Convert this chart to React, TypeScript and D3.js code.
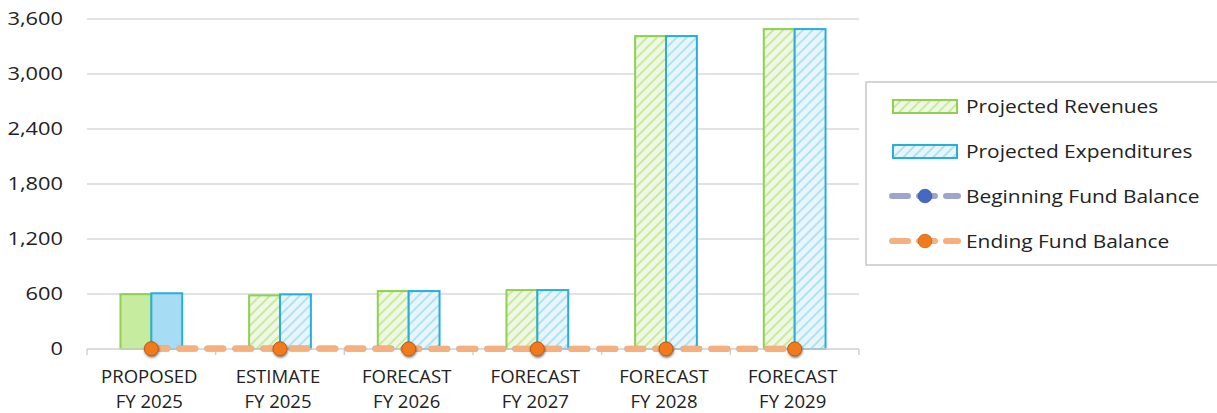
import React from "react";
import * as d3 from "d3";

const categories = [
  ["PROPOSED", "FY 2025"],
  ["ESTIMATE", "FY 2025"],
  ["FORECAST", "FY 2026"],
  ["FORECAST", "FY 2027"],
  ["FORECAST", "FY 2028"],
  ["FORECAST", "FY 2029"],
];
const projectedRevenues = [598, 585, 632, 643, 3414, 3490];
const projectedExpenditures = [608, 596, 632, 643, 3414, 3490];
const beginningFundBalance = [6, 5, 4, 3, 3, 2];
const endingFundBalance = [2, 2, 1, 1, 1, 1];
const yTicks = [0, 600, 1200, 1800, 2400, 3000, 3600];

const W = 1217;
const H = 413;
const plot = { left: 87, right: 859, top: 19, bottom: 349 };
const FONT = "'Open Sans', sans-serif";

const GREEN = "#8fd14f";
const BLUE = "#27aedb";
const BEGIN_LINE = "#9ea4cc";
const BEGIN_DOT = "#4468c4";
const END_LINE = "#f6b07e";
const END_DOT = "#f07a1c";

// Text drawn slightly wide, anchored at (x, y)
function Label({
  x,
  y,
  anchor = "start",
  size = 17,
  stretch = 1.06,
  children,
}: {
  x: number;
  y: number;
  anchor?: "start" | "middle" | "end";
  size?: number;
  stretch?: number;
  children: React.ReactNode;
}) {
  return (
    <text
      transform={`translate(${x},${y}) scale(${stretch},1)`}
      textAnchor={anchor}
      dy="0.35em"
      fontFamily={FONT}
      fontSize={size}
      fill="#222"
    >
      {children}
    </text>
  );
}

export default function App() {
  const x = d3
    .scaleBand<number>()
    .domain(categories.map((_, i) => i))
    .range([plot.left, plot.right])
    .paddingInner(0)
    .paddingOuter(0);
  const y = d3.scaleLinear().domain([0, 3600]).range([plot.bottom, plot.top]);
  const bw = x.bandwidth() * 0.24;
  const cx = (i: number) => (x(i) as number) + x.bandwidth() / 2;

  const line = d3
    .line<number>()
    .x((_, i) => cx(i))
    .y((d) => y(d));

  const legendItems = [
    { label: "Projected Revenues", kind: "bar", color: GREEN, fill: "url(#hatchGreen)" },
    { label: "Projected Expenditures", kind: "bar", color: BLUE, fill: "url(#hatchBlue)" },
    { label: "Beginning Fund Balance", kind: "line", color: BEGIN_LINE, dot: BEGIN_DOT },
    { label: "Ending Fund Balance", kind: "line", color: END_LINE, dot: END_DOT },
  ];
  const legendY = [106, 151, 196, 241];

  return (
    <svg width={W} height={H} style={{ position: "absolute", left: 0, top: 0, background: "#fff" }}>
      <defs>
        <pattern id="hatchGreen" width="7" height="7" patternUnits="userSpaceOnUse" patternTransform="rotate(45)">
          <rect width="7" height="7" fill="#eef8e2" />
          <line x1="0" y1="0" x2="0" y2="7" stroke="#c9e9a4" strokeWidth="4" />
        </pattern>
        <pattern id="hatchBlue" width="7" height="7" patternUnits="userSpaceOnUse" patternTransform="rotate(45)">
          <rect width="7" height="7" fill="#e6f6fc" />
          <line x1="0" y1="0" x2="0" y2="7" stroke="#b3e1f3" strokeWidth="4" />
        </pattern>
        <filter id="dotShadow" x="-50%" y="-50%" width="200%" height="200%">
          <feDropShadow dx="0.5" dy="1.5" stdDeviation="1.2" floodColor="#000" floodOpacity="0.35" />
        </filter>
      </defs>

      {/* gridlines */}
      {yTicks.slice(1).map((t) => (
        <line key={t} x1={plot.left} x2={plot.right} y1={y(t)} y2={y(t)} stroke="#d9d9d9" strokeWidth={1.5} />
      ))}

      {/* y tick labels */}
      {yTicks.map((t) => (
        <Label key={t} x={63} y={y(t)} anchor="end" size={18.5} stretch={1.18}>
          {d3.format(",")(t)}
        </Label>
      ))}

      {/* bars */}
      {categories.map((_, i) => {
        const c = cx(i);
        const solid = i === 0;
        return (
          <g key={i}>
            <rect
              x={c - bw}
              y={y(projectedRevenues[i])}
              width={bw}
              height={y(0) - y(projectedRevenues[i])}
              fill={solid ? "#c6eca0" : "url(#hatchGreen)"}
              stroke={GREEN}
              strokeWidth={2}
            />
            <rect
              x={c}
              y={y(projectedExpenditures[i])}
              width={bw}
              height={y(0) - y(projectedExpenditures[i])}
              fill={solid ? "#a6dcf4" : "url(#hatchBlue)"}
              stroke={BLUE}
              strokeWidth={2}
            />
          </g>
        );
      })}

      {/* x axis */}
      <line x1={plot.left} x2={plot.right} y1={y(0)} y2={y(0)} stroke="#d0d0d0" strokeWidth={1.5} />
      {d3.range(categories.length + 1).map((i) => {
        const xx = i < categories.length ? (x(i) as number) : plot.right;
        return <line key={i} x1={xx} x2={xx} y1={y(0)} y2={y(0) + 6} stroke="#d0d0d0" strokeWidth={1.5} />;
      })}

      {/* fund balance lines */}
      <path
        d={line(beginningFundBalance) || ""}
        fill="none"
        stroke={BEGIN_LINE}
        strokeWidth={6}
        strokeDasharray="16 12"
        strokeLinecap="round"
      />
      <path
        d={line(endingFundBalance) || ""}
        fill="none"
        stroke={END_LINE}
        strokeWidth={6}
        strokeDasharray="16 12"
        strokeLinecap="round"
      />
      {beginningFundBalance.map((v, i) => (
        <circle key={"b" + i} cx={cx(i)} cy={y(v)} r={6.5} fill={BEGIN_DOT} stroke="#2f4f9e" strokeWidth={1} filter="url(#dotShadow)" />
      ))}
      {endingFundBalance.map((v, i) => (
        <circle key={"e" + i} cx={cx(i)} cy={y(v)} r={7} fill={END_DOT} stroke="#c85e10" strokeWidth={1} filter="url(#dotShadow)" />
      ))}

      {/* category labels */}
      {categories.map((lines, i) => (
        <g key={i}>
          <Label x={cx(i) - 2} y={377} anchor="middle" size={17.5}>{lines[0]}</Label>
          <Label x={cx(i) - 2} y={402} anchor="middle" size={17.5}>{lines[1]}</Label>
        </g>
      ))}

      {/* legend */}
      <rect x={866} y={82} width={360} height={183} fill="#fff" stroke="#c8c8c8" strokeWidth={1.5} />
      {legendItems.map((it, k) => {
        const ly = legendY[k];
        return (
          <g key={it.label}>
            {it.kind === "bar" ? (
              <rect x={893} y={ly - 6} width={64} height={13} fill={it.fill} stroke={it.color} strokeWidth={2} />
            ) : (
              <g>
                <line x1={892} x2={958} y1={ly} y2={ly} stroke={it.color} strokeWidth={6} strokeDasharray="16 11" strokeLinecap="round" />
                <circle cx={925} cy={ly} r={7} fill={it.dot} stroke="#00000033" strokeWidth={1} />
              </g>
            )}
            <Label x={966} y={ly} size={19} stretch={1.1}>
              {it.label}
            </Label>
          </g>
        );
      })}
    </svg>
  );
}
